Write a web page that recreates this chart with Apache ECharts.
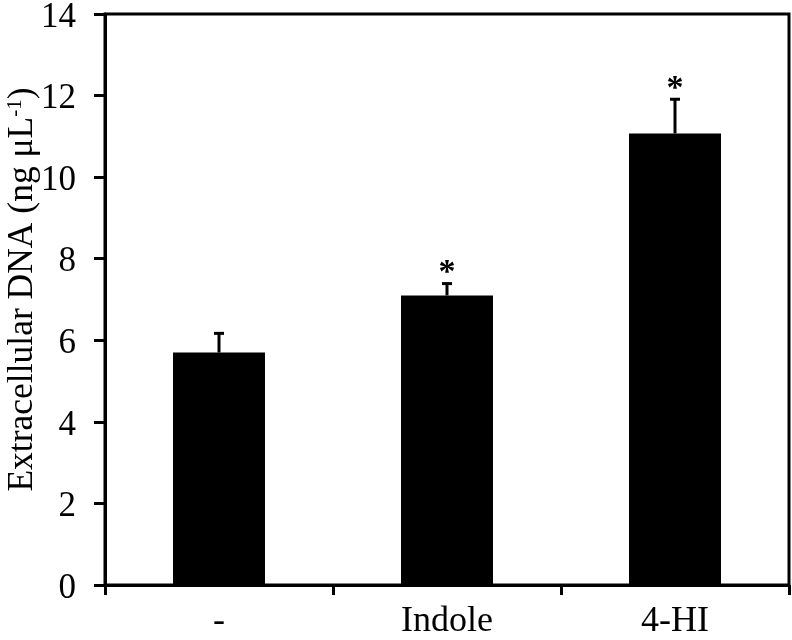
<!DOCTYPE html>
<html>
<head>
<meta charset="utf-8">
<script src="https://cdn.jsdelivr.net/npm/echarts@6/dist/echarts.min.js"></script>
<style>
  html, body { margin: 0; padding: 0; background: #fff; }
  #chart { width: 792px; height: 640px; }
</style>
</head>
<body>
<div id="chart"></div>
<script>
var categories = ['-', 'Indole', '4-HI'];
var values = [5.7, 7.1, 11.07];
var errors = [0.47, 0.29, 0.84];
var marks = ['', '*', '*'];
var yTicks = [0, 2, 4, 6, 8, 10, 12, 14];

var font = '"Liberation Serif", "Times New Roman", serif';

function initChart () {
  var errData = values.map(function (v, i) { return [i, v, errors[i], marks[i]]; });

  var option = {
    animation: false,
    grid: {
      left: 105, right: 3, top: 14, bottom: 55,
      outerBoundsMode: 'none',
      containLabel: false,
      show: true, borderColor: '#000', borderWidth: 3, backgroundColor: 'transparent'
    },
    xAxis: {
      type: 'category',
      data: categories,
      boundaryGap: true,
      axisLine: { lineStyle: { color: '#000', width: 3 } },
      axisTick: { show: true, length: 10, lineStyle: { color: '#000', width: 3 } },
      axisLabel: { color: '#000', fontFamily: font, fontSize: 36, margin: 19 }
    },
    yAxis: {
      type: 'value',
      min: yTicks[0],
      max: yTicks[yTicks.length - 1],
      interval: 2,
      name: 'Extracellular DNA (ng μL{sup|-1})',
      nameLocation: 'middle',
      nameGap: 64,
      nameMoveOverlap: false,
      nameTextStyle: {
        color: '#000', fontFamily: font, fontSize: 35.5,
        padding: [0, 0, 0, 20],
        rich: { sup: { fontFamily: font, fontSize: 21, color: '#000', verticalAlign: 'top', padding: [0, 0, 14, 0] } }
      },
      splitLine: { show: false },
      axisLine: { show: true, lineStyle: { color: '#000', width: 3 } },
      axisTick: { show: true, length: 11, lineStyle: { color: '#000', width: 3 } },
      axisLabel: {
        color: '#000', fontFamily: font, fontSize: 35, margin: 29,
        formatter: '{v|{value}}',
        rich: { v: { color: '#000', fontFamily: font, fontSize: 35, padding: [7, 0, 0, 0] } }
      }
    },
    series: [
      {
        type: 'bar',
        data: values,
        barWidth: 92,
        itemStyle: { color: '#000' },
        z: 2
      },
      {
        type: 'custom',
        data: errData,
        z: 3,
        renderItem: function (params, api) {
          var x = api.value(0);
          var top = api.coord([x, api.value(1) + api.value(2)]);
          var base = api.coord([x, api.value(1)]);
          var half = 5;
          var st = { stroke: '#000', lineWidth: 3 };
          var children = [
            { type: 'line', shape: { x1: top[0], y1: base[1], x2: top[0], y2: top[1] }, style: st },
            { type: 'line', shape: { x1: top[0] - half, y1: top[1], x2: top[0] + half, y2: top[1] }, style: st }
          ];
          var m = api.value(3);
          if (m) {
            children.push({
              type: 'text',
              style: {
                text: m, x: top[0], y: top[1] - 10,
                align: 'center', verticalAlign: 'middle',
                fill: '#000', font: 'bold 34px ' + font
              }
            });
          }
          return { type: 'group', children: children };
        }
      }
    ]
  };

  var chart = echarts.init(document.getElementById('chart'));
  chart.setOption(option);
}

initChart();
</script>
</body>
</html>
